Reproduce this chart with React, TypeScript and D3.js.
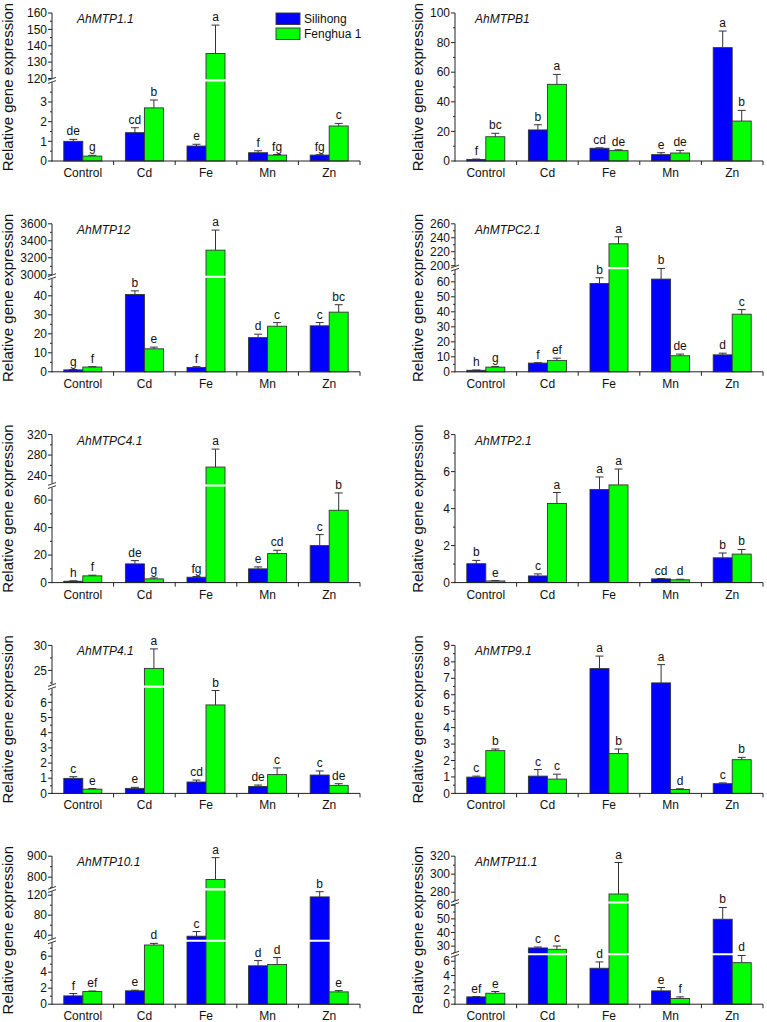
import React from 'react';
import * as d3 from 'd3';

// ---------- data ----------
const categories = ['Control', 'Cd', 'Fe', 'Mn', 'Zn'];
const seriesNames = ['Silihong', 'Fenghua 1'];
const seriesColors = ['#0000ff', '#00ff00'];

// AhMTP1.1
const mtp11S = [1.0, 1.44, 0.76, 0.42, 0.3];
const mtp11SErr = [0.1, 0.25, 0.09, 0.1, 0.02];
const mtp11F = [0.25, 2.7, 135.3, 0.3, 1.78];
const mtp11FErr = [0.04, 0.4, 17.3, 0.03, 0.13];
const mtp11SL = ['de', 'cd', 'e', 'f', 'fg'];
const mtp11FL = ['g', 'b', 'a', 'fg', 'c'];
const mtp11Ticks = [[0, 1, 2, 3], [120, 130, 140, 150, 160]];

// AhMTPB1
const mtpb1S = [1.0, 21.0, 8.6, 4.3, 76.6];
const mtpb1SErr = [0.3, 3.5, 0.3, 1.3, 11.2];
const mtpb1F = [16.4, 51.8, 7.0, 5.4, 27.0];
const mtpb1FErr = [2.3, 6.7, 0.6, 1.8, 7.2];
const mtpb1SL = ['f', 'b', 'cd', 'e', 'a'];
const mtpb1FL = ['bc', 'a', 'de', 'de', 'b'];
const mtpb1Ticks = [[0, 20, 40, 60, 80, 100]];

// AhMTP12
const mtp12S = [1.0, 40.7, 2.3, 18.0, 24.2];
const mtp12SErr = [0.2, 1.9, 0.4, 1.8, 1.7];
const mtp12F = [2.5, 12.1, 3290, 24.0, 31.4];
const mtp12FErr = [0.2, 0.9, 236, 1.9, 3.9];
const mtp12SL = ['g', 'b', 'f', 'd', 'c'];
const mtp12FL = ['f', 'e', 'a', 'c', 'bc'];
const mtp12Ticks = [[0, 10, 20, 30, 40], [3000, 3200, 3400, 3600]];

// AhMTPC2.1
const mtpc21S = [1.0, 5.8, 58.9, 61.8, 11.3];
const mtpc21SErr = [0.2, 0.3, 3.8, 7.1, 1.1];
const mtpc21F = [3.1, 7.6, 231.4, 10.7, 38.4];
const mtpc21FErr = [0.5, 1.5, 10, 1.1, 3.1];
const mtpc21SL = ['h', 'f', 'b', 'b', 'd'];
const mtpc21FL = ['g', 'ef', 'a', 'de', 'c'];
const mtpc21Ticks = [[0, 10, 20, 30, 40, 50, 60], [200, 220, 240, 260]];

// AhMTPC4.1
const mtpc41S = [1.0, 13.6, 3.9, 10.0, 26.9];
const mtpc41SErr = [0.3, 2.4, 0.5, 1.4, 8.0];
const mtpc41F = [4.9, 2.7, 256.7, 21.1, 52.6];
const mtpc41FErr = [0.5, 0.7, 35, 2.4, 12.6];
const mtpc41SL = ['h', 'de', 'fg', 'e', 'c'];
const mtpc41FL = ['f', 'g', 'a', 'cd', 'b'];
const mtpc41Ticks = [[0, 20, 40, 60], [240, 280, 320]];

// AhMTP2.1
const mtp21S = [1.02, 0.36, 5.03, 0.2, 1.34];
const mtp21SErr = [0.18, 0.11, 0.68, 0.02, 0.26];
const mtp21F = [0.09, 4.28, 5.28, 0.15, 1.54];
const mtp21FErr = [0.02, 0.59, 0.86, 0.03, 0.25];
const mtp21SL = ['b', 'c', 'a', 'cd', 'b'];
const mtp21FL = ['e', 'a', 'a', 'd', 'b'];
const mtp21Ticks = [[0, 2, 4, 6, 8]];

// AhMTP4.1
const mtp41S = [0.99, 0.33, 0.75, 0.46, 1.21];
const mtp41SErr = [0.11, 0.07, 0.13, 0.09, 0.27];
const mtp41F = [0.28, 25.4, 5.83, 1.24, 0.53];
const mtp41FErr = [0.04, 3.9, 0.95, 0.44, 0.11];
const mtp41SL = ['c', 'e', 'cd', 'de', 'c'];
const mtp41FL = ['e', 'a', 'b', 'c', 'de'];
const mtp41Ticks = [[0, 1, 2, 3, 4, 5, 6], [25, 30]];

// AhMTP9.1
const mtp91S = [0.99, 1.05, 7.59, 6.72, 0.59];
const mtp91SErr = [0.06, 0.4, 0.76, 1.11, 0.05];
const mtp91F = [2.6, 0.87, 2.42, 0.24, 2.05];
const mtp91FErr = [0.1, 0.3, 0.28, 0.04, 0.14];
const mtp91SL = ['c', 'c', 'a', 'a', 'c'];
const mtp91FL = ['b', 'c', 'b', 'd', 'b'];
const mtp91Ticks = [[0, 1, 2, 3, 4, 5, 6, 7, 8, 9]];

// AhMTP10.1
const mtp101S = [1.04, 1.67, 38, 4.8, 116.6];
const mtp101SErr = [0.29, 0.08, 9.3, 0.65, 10.4];
const mtp101F = [1.58, 7.4, 789, 4.96, 1.54];
const mtp101FErr = [0.07, 0.2, 104, 0.87, 0.16];
const mtp101SL = ['f', 'e', 'c', 'd', 'b'];
const mtp101FL = ['ef', 'd', 'a', 'd', 'e'];
const mtp101Ticks = [[0, 2, 4, 6], [40, 80, 120], [800, 900]];

// AhMTP11.1
const mtp111S = [1.02, 28.7, 5.02, 1.86, 49.7];
const mtp111SErr = [0.05, 0.7, 0.88, 0.47, 8.6];
const mtp111F = [1.53, 27.7, 278, 0.8, 5.8];
const mtp111FErr = [0.24, 2.4, 35, 0.22, 1.1];
const mtp111SL = ['ef', 'c', 'd', 'e', 'b'];
const mtp111FL = ['e', 'c', 'a', 'f', 'd'];
const mtp111Ticks = [[0, 2, 4, 6], [30, 40, 50, 60], [280, 300, 320]];

// ---------- layout (axis segments: [d0, d1, r0, r1], r = px from plot top) ----------
type Seg = [number, number, number, number];
interface PanelDef {
  gene: string;
  s: number[]; sErr: number[]; f: number[]; fErr: number[];
  sL: string[]; fL: string[];
  ticks: number[][];
  segs: Seg[];
}

const panels: PanelDef[] = [
  { gene: 'AhMTP1.1', s: mtp11S, sErr: mtp11SErr, f: mtp11F, fErr: mtp11FErr, sL: mtp11SL, fL: mtp11FL, ticks: mtp11Ticks,
    segs: [[0, 4, 148, 69.3], [120, 160, 65.5, 0]] },
  { gene: 'AhMTPB1', s: mtpb1S, sErr: mtpb1SErr, f: mtpb1F, fErr: mtpb1FErr, sL: mtpb1SL, fL: mtpb1FL, ticks: mtpb1Ticks,
    segs: [[0, 100, 148, 0]] },
  { gene: 'AhMTP12', s: mtp12S, sErr: mtp12SErr, f: mtp12F, fErr: mtp12FErr, sL: mtp12SL, fL: mtp12FL, ticks: mtp12Ticks,
    segs: [[0, 49, 148, 54.9], [3000, 3600, 51, 0]] },
  { gene: 'AhMTPC2.1', s: mtpc21S, sErr: mtpc21SErr, f: mtpc21F, fErr: mtpc21FErr, sL: mtpc21SL, fL: mtpc21FL, ticks: mtpc21Ticks,
    segs: [[0, 69, 148, 44.5], [197, 260, 44, 0]] },
  { gene: 'AhMTPC4.1', s: mtpc41S, sErr: mtpc41SErr, f: mtpc41F, fErr: mtpc41FErr, sL: mtpc41SL, fL: mtpc41FL, ticks: mtpc41Ticks,
    segs: [[0, 69, 148, 53.1], [225, 320, 48.7, 0]] },
  { gene: 'AhMTP2.1', s: mtp21S, sErr: mtp21SErr, f: mtp21F, fErr: mtp21FErr, sL: mtp21SL, fL: mtp21FL, ticks: mtp21Ticks,
    segs: [[0, 8, 148, 0]] },
  { gene: 'AhMTP4.1', s: mtp41S, sErr: mtp41SErr, f: mtp41F, fErr: mtp41FErr, sL: mtp41SL, fL: mtp41FL, ticks: mtp41Ticks,
    segs: [[0, 6.9, 148, 43.3], [22.2, 30, 39, 0]] },
  { gene: 'AhMTP9.1', s: mtp91S, sErr: mtp91SErr, f: mtp91F, fErr: mtp91FErr, sL: mtp91SL, fL: mtp91FL, ticks: mtp91Ticks,
    segs: [[0, 9, 148, 0]] },
  { gene: 'AhMTP10.1', s: mtp101S, sErr: mtp101SErr, f: mtp101F, fErr: mtp101FErr, sL: mtp101SL, fL: mtp101FL, ticks: mtp101Ticks,
    segs: [[0, 7.8, 148, 85.6], [31, 128, 83.5, 35], [750, 900, 31.5, 0]] },
  { gene: 'AhMTP11.1', s: mtp111S, sErr: mtp111SErr, f: mtp111F, fErr: mtp111FErr, sL: mtp111SL, fL: mtp111FL, ticks: mtp111Ticks,
    segs: [[0, 6.8, 148, 99.3], [25, 61, 96.8, 47.6], [270, 320, 45, 0]] },
];

const W = 767;
const H = 1022;
const PLOT_W = 308;
const PLOT_H = 148;
const FONT = '"Liberation Sans", Arial, Helvetica, sans-serif';
const AXIS = '#222';

function Panel({ p, idx }: { p: PanelDef; idx: number }) {
  const col = idx % 2;
  const row = Math.floor(idx / 2);
  const left = col ? 455 : 52;
  const top = 13 + row * 210.8;
  const bottom = top + PLOT_H;

  const y = d3.scaleLinear()
    .domain(p.segs.flatMap(s => [s[0], s[1]]))
    .range(p.segs.flatMap(s => [top + s[2], top + s[3]]));
  const x = d3.scaleBand<string>().domain(categories)
    .range([left, left + PLOT_W]).paddingInner(0.383).paddingOuter(0.1915);
  const xs = d3.scaleBand<string>().domain(seriesNames).range([0, x.bandwidth()]);
  const bw = xs.bandwidth();

  const breaks = p.segs.slice(1).map((s, i) => top + (p.segs[i][3] + s[2]) / 2);

  const series = [
    { name: seriesNames[0], vals: p.s, errs: p.sErr, letters: p.sL, color: seriesColors[0] },
    { name: seriesNames[1], vals: p.f, errs: p.fErr, letters: p.fL, color: seriesColors[1] },
  ];

  const majors: number[] = [];
  const minors: number[] = [];
  p.ticks.forEach((tk, si) => {
    const seg = p.segs[si];
    const lo = Math.min(seg[0], seg[1]);
    const hi = Math.max(seg[0], seg[1]);
    const step = tk.length > 1 ? tk[1] - tk[0] : 1;
    tk.forEach(t => {
      majors.push(t);
      [t - step / 2, t + step / 2].forEach(m => {
        if (m >= lo && m <= hi && !minors.includes(m)) minors.push(m);
      });
    });
  });

  const titleX = col ? 423 : 13;
  const midY = top + PLOT_H / 2;

  return (
    <g>
      {/* bars */}
      {series.map(se =>
        categories.map((c, i) => {
          const bx = (x(c) as number) + (xs(se.name) as number);
          const yv = y(se.vals[i]);
          return (
            <rect key={se.name + c} x={bx} y={yv} width={bw} height={bottom - yv}
              fill={se.color} stroke="#333" strokeWidth={0.9} />
          );
        })
      )}
      {/* white break lines */}
      {breaks.map((b, i) => (
        <line key={'wb' + i} x1={left + 1} x2={left + PLOT_W} y1={b} y2={b} stroke="#fff" strokeWidth={2.2} />
      ))}
      {/* error bars + letters */}
      {series.map(se =>
        categories.map((c, i) => {
          const cx = (x(c) as number) + (xs(se.name) as number) + bw / 2;
          const y0 = y(se.vals[i]);
          const y1 = y(se.vals[i] + se.errs[i]);
          return (
            <g key={'e' + se.name + c}>
              <line x1={cx} x2={cx} y1={y0} y2={y1} stroke="#333" strokeWidth={1} />
              <line x1={cx - 4} x2={cx + 4} y1={y1} y2={y1} stroke="#333" strokeWidth={1} />
              <text x={cx} y={y1 - 4} textAnchor="middle" fontSize={12} fontFamily={FONT} fill="#111">
                {se.letters[i]}
              </text>
            </g>
          );
        })
      )}
      {/* y axis segments */}
      {p.segs.map((s, i) => (
        <line key={'ya' + i} x1={left} x2={left} y1={top + s[2] + (i === 0 ? 0.5 : 0)} y2={top + s[3]} stroke={AXIS} strokeWidth={1} />
      ))}
      {majors.map(t => (
        <g key={'mt' + t}>
          <line x1={left - 4} x2={left} y1={y(t)} y2={y(t)} stroke={AXIS} strokeWidth={1} />
          <text x={left - 5} y={y(t)} dy="0.35em" textAnchor="end" fontSize={12} fontFamily={FONT} fill="#111">{t}</text>
        </g>
      ))}
      {minors.map(t => (
        <line key={'mn' + t} x1={left - 2} x2={left} y1={y(t)} y2={y(t)} stroke={AXIS} strokeWidth={1} />
      ))}
      {/* break marks */}
      {breaks.map((b, i) => (
        <g key={'bm' + i}>
          <rect x={left - 1} y={b - 1.6} width={2} height={3.2} fill="#fff" />
          <line x1={left - 4} x2={left + 4} y1={b - 0.2} y2={b - 3} stroke={AXIS} strokeWidth={0.9} />
          <line x1={left - 4} x2={left + 4} y1={b + 3} y2={b + 0.2} stroke={AXIS} strokeWidth={0.9} />
        </g>
      ))}
      {/* x axis */}
      <line x1={left - 0.5} x2={left + PLOT_W} y1={bottom} y2={bottom} stroke={AXIS} strokeWidth={1} />
      {d3.range(1, categories.length + 1).map(k => {
        const tx = left + k * x.step();
        return <line key={'xt' + k} x1={tx} x2={tx} y1={bottom} y2={bottom + 4} stroke={AXIS} strokeWidth={1} />;
      })}
      {categories.map(c => (
        <text key={'xl' + c} x={(x(c) as number) + x.bandwidth() / 2} y={bottom + 16} textAnchor="middle"
          fontSize={12} fontFamily={FONT} fill="#111">{c}</text>
      ))}
      {/* y title */}
      <text transform={`translate(${titleX},${midY}) rotate(-90)`} textAnchor="middle" fontSize={15}
        fontFamily={FONT} fill="#111">Relative gene expression</text>
      {/* gene name */}
      <text x={left + (col ? 20 : 25)} y={top + 10} fontSize={12} fontStyle="italic" fontFamily={FONT} fill="#111">
        {p.gene}
      </text>
      {/* legend */}
      {idx === 0 && seriesNames.map((n, i) => (
        <g key={'lg' + n}>
          <rect x={276} y={13 + i * 15} width={24} height={11.5} fill={seriesColors[i]} stroke="#333" strokeWidth={0.9} />
          <text x={304} y={23 + i * 15} fontSize={12} fontFamily={FONT} fill="#111">{n}</text>
        </g>
      ))}
    </g>
  );
}

export default function App() {
  return (
    <svg width={W} height={H} viewBox={`0 0 ${W} ${H}`}
      style={{ position: 'absolute', left: 0, top: 0, background: '#fff' }}>
      <rect x={0} y={0} width={W} height={H} fill="#fff" />
      {panels.map((p, i) => <Panel key={p.gene} p={p} idx={i} />)}
    </svg>
  );
}
